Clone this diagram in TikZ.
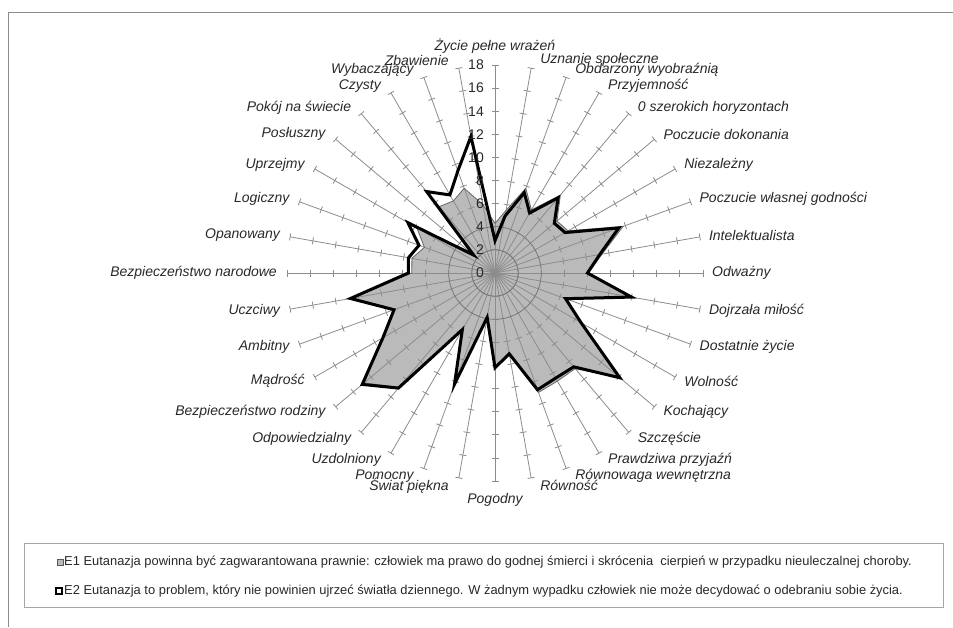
\documentclass[tikz,border=0pt]{standalone}
\usepackage{fontspec}
\setmainfont{Liberation Sans}
\definecolor{fillgray}{RGB}{186,186,186}
\definecolor{spokegray}{RGB}{140,140,140}
\definecolor{textgray}{RGB}{40,40,40}
\newcommand{\runit}{11.556}
\newcommand{\eonevals}{5.5,7.8,6.3,8.8,7.0,7.3,11.8,9.4,8.1,11.8,6.6,8.7,14.0,10.8,10.8,11.0,7.2,8.2,3.9,10.2,5.6,12.9,14.8,11.1,9.2,12.5,7.2,7.3,6.5,7.8,2.9,7.5,7.2,7.8,6.0}
\newcommand{\etwovals}{5.0,7.4,6.0,8.5,6.7,7.0,11.4,9.2,8.0,12.0,6.5,8.6,14.1,10.6,10.5,10.75,7.1,8.2,3.9,10.25,5.65,13.0,15.0,11.2,9.3,12.7,7.5,7.6,7.0,8.7,2.4,9.2,7.8,9.4,12.0}
\begin{document}
\begin{tikzpicture}[x=1pt,y=1pt]
  \tikzstyle{frameline}=[draw=black!45,line width=0.8pt]
  \tikzstyle{spoke}=[draw=spokegray,line width=0.8pt]
  \tikzstyle{grid}=[draw=black!55,line width=0.5pt]
  \tikzstyle{eonearea}=[fill=fillgray]
  \tikzstyle{eoneline}=[draw=black!60,line width=0.8pt]
  \tikzstyle{etwoline}=[draw=black,line width=3pt]
  \tikzstyle{axislab}=[inner sep=0pt,text=textgray,font=\fontsize{14}{16}\selectfont\itshape]
  \tikzstyle{numlab}=[inner sep=0pt,text=textgray,font=\fontsize{14}{16}\selectfont,anchor=east]
  \tikzstyle{legtext}=[inner sep=0pt,anchor=west,text=textgray,font=\fontsize{12.9}{15}\selectfont]
  \tikzstyle{legbox}=[draw=black!35,line width=0.8pt]

  \useasboundingbox (-495,-354) rectangle (458,273);
  \draw[frameline] (-487,-354) -- (-487,261) -- (458,261);

  \fill[eonearea] (90:{4.3*\runit}) \foreach \v [count=\k] in \eonevals {-- ({90-10*\k}:{\v*\runit})} -- cycle;

  \foreach \k in {0,...,35} {
    \draw[spoke] (0,0) -- ({90-10*\k}:208);
    \foreach \t in {2,4,...,18}
      \draw[spoke] ({90-10*\k}:{\t*\runit}) ++({-10*\k}:3.5) -- ++({180-10*\k}:7);
  }
  \draw[grid] (0,0) circle ({2*\runit}) (0,0) circle ({4*\runit});

  \draw[eoneline] (90:{4.3*\runit}) \foreach \v [count=\k] in \eonevals {-- ({90-10*\k}:{\v*\runit})} -- cycle;
  \draw[etwoline] (90:{2.8*\runit}) \foreach \v [count=\k] in \etwovals {-- ({90-10*\k}:{\v*\runit})} -- cycle;

  \node[axislab] (lab0) at (0,227) {Życie pełne wrażeń};
  \foreach \k/\txt in {1/Uznanie społeczne,2/Obdarzony wyobraźnią,3/Przyjemność,4/0 szerokich horyzontach,5/Poczucie dokonania,6/Niezależny,7/Poczucie własnej godności,8/Intelektualista,9/Odważny,10/Dojrzała miłość,11/Dostatnie życie,12/Wolność,13/Kochający,14/Szczęście,15/Prawdziwa przyjaźń,16/Równowaga wewnętrzna,17/Równość}
    \node[axislab,anchor=west] (lab\k) at ({208*sin(10*\k)+9},{216*cos(10*\k)}) {\txt};
  \node[axislab] (lab18) at (0,-227) {Pogodny};
  \foreach \k/\txt in {19/Świat piękna,20/Pomocny,21/Uzdolniony,22/Odpowiedzialny,23/Bezpieczeństwo rodziny,24/Mądrość,25/Ambitny,26/Uczciwy,27/Bezpieczeństwo narodowe,28/Opanowany,29/Logiczny,30/Uprzejmy,31/Posłuszny,32/Pokój na świecie,33/Czysty,34/Wybaczający,35/Zbawienie}
    \node[axislab,anchor=east] (lab\k) at ({208*sin(10*\k)-10},{216*cos(10*\k)}) {\txt};

  \foreach \t in {0,2,...,18}
    \node[numlab] (num\t) at (-11,{\t*\runit}) {\t};

  \draw[legbox] (-471,-270) rectangle (448,-334);
  \node[draw=black!65,fill=fillgray,line width=0.6pt,minimum size=6pt,inner sep=0pt] (mark1) at (-435,-289) {};
  \node[draw=black,fill=white,line width=2pt,minimum size=6pt,inner sep=0pt] (mark2) at (-435.5,-318) {};
  \node[legtext] (leg1) at (-431,-289) {E1 Eutanazja powinna być zagwarantowana prawnie: człowiek ma prawo do godnej śmierci i skrócenia \ cierpień w przypadku nieuleczalnej choroby.};
  \node[legtext] (leg2) at (-431,-318) {E2 Eutanazja to problem, który nie powinien ujrzeć światła dziennego. W żadnym wypadku człowiek nie może decydować o odebraniu sobie życia.};
\end{tikzpicture}
\end{document}
